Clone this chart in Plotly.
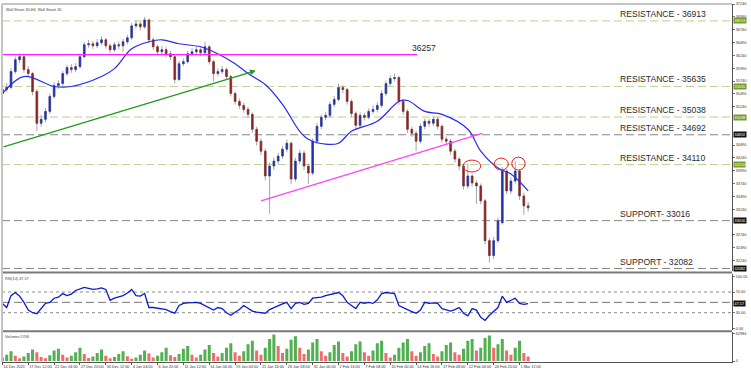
import numpy as np
import plotly.graph_objects as go

# ---------------- data ----------------
opens = [35500,35575,35614,35924,36157,36215,35963,35885,35536,34915,34993,35148,35439,35652,35691,35885,36002,35963,36021,36215,
         36448,36467,36428,36487,36545,36428,36351,36448,36428,36506,36584,36816,36855,36797,36933,36545,36409,36312,36351,36273,
         36215,35769,36079,36118,36273,36312,36351,36293,36409,36118,35885,35924,35963,35827,35497,35342,35264,35187,35090,34799,
         34566,34372,33887,34081,34178,34275,34411,34527,33829,34178,34333,34081,33945,34566,34857,35032,35070,35284,35381,35614,
         35575,35342,35109,34876,35070,35032,35148,35187,35264,35497,35691,35788,35808,35342,35148,34799,34721,34566,34857,34954,
         34915,34993,34857,34605,34566,34372,34217,34081,33693,33887,33751,33693,33402,32626,32335,32626,32975,33984,33596,33790,
         33984,33499,33305]
highs = [35650,35700,35990,36220,36273,36250,36030,35920,35580,35080,35210,35500,35720,35760,35940,36060,36070,36090,36270,36500,
         36540,36520,36560,36610,36580,36470,36500,36510,36560,36640,36870,36920,36900,36991,36960,36590,36450,36420,36400,36330,
         36240,36130,36180,36330,36380,36420,36410,36506,36440,36150,35990,36030,36000,35860,35540,35400,35320,35240,35130,34850,
         34620,34420,34150,34250,34340,34470,34600,34560,34240,34400,34380,34130,34620,34920,35090,35140,35340,35450,35691,35660,
         35610,35380,35150,35130,35120,35210,35260,35330,35560,35750,35850,35885,35840,35390,35190,34850,34770,34910,35010,35000,
         35060,35040,34890,34660,34610,34420,34260,34120,34120,33930,33800,33740,33440,32680,32700,33080,34060,34020,33860,34178,
         34020,33560,33380]
lows = [35470,35520,35580,35880,36090,35900,35820,35460,34760,34850,34940,35100,35400,35590,35650,35840,35900,35910,35980,36180,
        36390,36370,36380,36440,36370,36290,36310,36360,36312,36460,36550,36770,36730,36760,36480,36350,36250,36260,36200,36150,
        35691,35740,36030,36080,36240,36270,36230,36250,36060,35730,35830,35880,35770,35440,35280,35200,35120,35020,34730,34480,
        34290,33800,33150,34000,34120,34220,34360,33730,33780,34120,34000,33733,33900,34520,34800,34980,35020,35230,35340,35500,
        35280,35040,34799,34830,34970,34990,35100,35130,35220,35450,35640,35730,35280,35080,34730,34650,34372,34520,34800,34850,
        34860,34800,34540,34500,34300,34150,34000,33620,33640,33680,33344,33330,32550,32200,32260,32580,32940,33530,33540,33740,
        33420,33130,33190]
closes = [35575,35614,35924,36157,36215,35963,35885,35536,34915,34993,35148,35439,35652,35691,35885,36002,35963,36021,36215,36448,
          36467,36428,36487,36545,36428,36351,36448,36428,36506,36584,36816,36855,36797,36933,36545,36409,36312,36351,36273,36215,
          35769,36079,36118,36273,36312,36351,36293,36409,36118,35885,35924,35963,35827,35497,35342,35264,35187,35090,34799,34566,
          34372,33887,34081,34178,34275,34411,34527,33829,34178,34333,34081,33945,34566,34857,35032,35070,35284,35381,35614,35575,
          35342,35109,34876,35070,35032,35148,35187,35264,35497,35691,35788,35808,35342,35148,34799,34721,34566,34857,34954,34915,
          34993,34857,34605,34566,34372,34217,34081,33693,33887,33751,33693,33402,32626,32335,32626,33014,33984,33596,33790,33984,
          33499,33305,33266]

ma_bars = [0,5,12,16,23,26,30,34,37,41,46,49,54,57,61,65,69,71,75,78,81,87,92,94,98,102,108,111,115,118,122]
ma_values = [35497,35827,35633,35633,35827,35982,36370,36506,36545,36467,36409,36312,36079,35885,35672,35284,34760,34605,
             34508,34527,34760,34954,35342,35361,35148,35090,34799,34372,34042,33926,33596]

rsi_values = [48,40,63,69,62,50,35,30,28,38,48,50,58,60,67,63,66,73,76,79,
              77,75,76,78,75,54,58,60,63,68,75,63,62,67,40,40,39,38,36,32,
              29,44,48,49,50,50,48,44,40,35,40,38,30,25,31,36,44,38,33,31,
              30,29,36,40,44,47,50,38,48,50,46,48,58,59,60,63,65,67,69,63,
              50,44,38,50,48,50,48,55,67,69,68,67,44,40,35,32,29,35,50,48,
              49,48,38,35,33,36,40,29,24,38,35,21,15,25,32,40,62,50,54,58,
              48,46,47.57]

volumes = [8000,14000,22000,12000,6000,10000,18000,26000,20000,9000,6000,13000,24000,28000,14000,8000,12000,20000,30000,16000,
           7000,10000,18000,26000,12000,6000,9000,16000,22000,11000,5000,8000,14000,24000,17000,8000,12000,20000,30000,13000,
           9000,16000,28000,34000,14000,8000,14000,26000,36000,18000,10000,18000,30000,40000,20000,12000,22000,38000,46000,24000,
           14000,30000,50000,60000,34000,18000,28000,48000,56000,30000,16000,26000,42000,50000,22000,12000,20000,36000,44000,18000,
           10000,22000,38000,44000,20000,12000,24000,40000,46000,18000,8000,14000,30000,42000,50000,22000,12000,20000,34000,40000,
           16000,10000,22000,36000,42000,20000,14000,28000,46000,50000,24000,30000,52000,58000,30000,38000,50000,24000,14000,30000,
           46000,18000,10000]

date_labels = ["14 Dec 2021", "17 Dec 12:00", "22 Dec 04:00", "27 Dec 20:00", "30 Dec 12:00", "4 Jan 04:00",
               "6 Jan 20:00", "11 Jan 12:00", "14 Jan 04:00", "19 Jan 00:00", "21 Jan 16:00", "26 Jan 08:00",
               "31 Jan 00:00", "2 Feb 16:00", "7 Feb 08:00", "10 Feb 00:00", "14 Feb 16:00", "17 Feb 08:00",
               "22 Feb 04:00", "24 Feb 20:00", "1 Mar 12:00"]
bars_per_label = 6

price_ticks = [37240, 36990, 36740, 36490, 36240, 35990, 35740, 35490, 35240, 34490, 34240, 33990,
               33740, 33490, 33240, 32740, 32490, 32240]

levels = [36913, 35635, 35038, 34692, 34110, 33016, 32082]
level_texts = ["RESISTANCE - 36913", "RESISTANCE - 35635", "RESISTANCE - 35038", "RESISTANCE - 34692",
               "RESISTANCE - 34110", "SUPPORT- 33016", "SUPPORT - 32082"]
level_is_green = [True, True, True, False, True, False, False]

mag_level = 36257
rsi_last = 47.57
vol_last = 5706
vol_max = 62984

# ---------------- figure ----------------
x = np.arange(len(closes))
o = np.array(opens); h = np.array(highs); l = np.array(lows); c = np.array(closes)

BULL = "#2233a8"
BEAR = "#8b2525"
WICK = "#a6a6a6"
GREEN_LVL = "#b9cf92"
GRAY_LVL = "#858585"
FONT = "Liberation Sans, Arial"
SMALL = dict(family=FONT, size=3.8, color="#333")
TXT = dict(family=FONT, size=8.6, color="#2a2a2a")

fig = go.Figure()

# wicks
fig.add_trace(go.Candlestick(
    x=x, open=o, high=h, low=l, close=c, xaxis="x", yaxis="y",
    increasing=dict(line=dict(color=WICK, width=1), fillcolor=WICK),
    decreasing=dict(line=dict(color=WICK, width=1), fillcolor=WICK),
    whiskerwidth=0, hoverinfo="skip"))
# bodies
fig.add_trace(go.Candlestick(
    x=x, open=o, high=np.maximum(o, c), low=np.minimum(o, c), close=c, xaxis="x", yaxis="y",
    increasing=dict(line=dict(color=BULL, width=0.5), fillcolor=BULL),
    decreasing=dict(line=dict(color=BEAR, width=0.5), fillcolor=BEAR),
    whiskerwidth=0, hoverinfo="skip"))

# moving average
fig.add_trace(go.Scatter(x=ma_bars, y=ma_values, mode="lines", xaxis="x", yaxis="y",
                         line=dict(color="#2a2af0", width=1.2, shape="spline", smoothing=1.0)))

# RSI
fig.add_trace(go.Scatter(x=x, y=rsi_values, mode="lines", xaxis="x2", yaxis="y2",
                         line=dict(color="#0b1bd0", width=1.3)))

# Volumes
vcol = ["#52b052" if i == 0 or volumes[i] >= volumes[i - 1] else "#f06c6c" for i in range(len(volumes))]
fig.add_trace(go.Bar(x=x, y=volumes, xaxis="x3", yaxis="y3", marker=dict(color=vcol, line=dict(width=0)),
                     width=0.7))

xr = [-0.09, 169.3]
tickpos = [bars_per_label * k for k in range(len(date_labels))]

price_dom = [0.2528, 1.0]
rsi_dom = [0.0889, 0.2472]
vol_dom = [0.0, 0.0833]

ax_common = dict(showgrid=False, zeroline=False, range=xr, fixedrange=True)
y_common = dict(showgrid=False, zeroline=False, side="right", showline=True, linecolor="#555", linewidth=1,
                ticks="outside", ticklen=2, tickwidth=0.8, tickcolor="#555", tickfont=SMALL, fixedrange=True)

fig.update_layout(
    width=751, height=372, margin=dict(l=2, r=19, t=2, b=10),
    paper_bgcolor="white", plot_bgcolor="white", showlegend=False, barmode="overlay", boxgap=0.45,
    xaxis=dict(domain=[0, 1], anchor="y", showticklabels=False, rangeslider=dict(visible=False), **ax_common),
    xaxis2=dict(domain=[0, 1], anchor="y2", showticklabels=False, **ax_common),
    xaxis3=dict(domain=[0, 1], anchor="y3", tickvals=tickpos, ticktext=date_labels,
                ticklabelposition="outside right", tickangle=0, tickfont=SMALL, ticks="outside",
                ticklen=2, tickcolor="#555", showline=True, linecolor="#555", linewidth=1, **ax_common),
    yaxis=dict(domain=price_dom, anchor="x", range=[32024, 37243], tickvals=price_ticks,
               ticktext=[str(v) for v in price_ticks], **y_common),
    yaxis2=dict(domain=rsi_dom, anchor="x2", range=[-3.8, 105.8], tickvals=[0, 30, 70, 100],
                ticktext=["0.00", "30.00", "70.00", "100.00"], **y_common),
    yaxis3=dict(domain=vol_dom, anchor="x3", range=[-2249, 65233], tickvals=[0, vol_max],
                ticktext=["0", str(vol_max)], **y_common),
)

shapes = []
annots = []

# horizontal level lines + labels + right boxes
for lv, txt, g in zip(levels, level_texts, level_is_green):
    shapes.append(dict(type="line", xref="paper", yref="y", x0=0, x1=1, y0=lv, y1=lv, layer="below",
                       line=dict(color=GREEN_LVL if g else GRAY_LVL, width=1, dash="8px,4px")))
    annots.append(dict(xref="paper", yref="y", x=0.8435, y=lv, text=txt, showarrow=False,
                       xanchor="left", yanchor="bottom", yshift=0, font=TXT))
    annots.append(dict(xref="paper", yref="y", x=1, y=lv, text=str(lv), showarrow=False, xanchor="left",
                       xshift=1, font=dict(family=FONT, size=3.8, color="white"),
                       bgcolor="#6f9e2f" if g else "#111111", borderpad=0.6))

# magenta horizontal level
shapes.append(dict(type="line", xref="x", yref="y", x0=xr[0], x1=96.2, y0=mag_level, y1=mag_level,
                   line=dict(color="#ff22ff", width=1.3)))
annots.append(dict(xref="x", yref="y", x=94.6, y=mag_level, text=str(mag_level), showarrow=False,
                   xanchor="left", yanchor="bottom", font=TXT))

# magenta trend line
shapes.append(dict(type="line", xref="x", yref="y", x0=60, y0=33401, x1=111.3, y1=34721,
                   line=dict(color="#ff44ff", width=1.3)))

# green trend arrow
annots.append(dict(xref="x", yref="y", axref="x", ayref="y", x=58.8, y=35943, ax=xr[0], ay=34449,
                   text="", showarrow=True, arrowhead=2, arrowsize=0.9, arrowwidth=1.3, arrowcolor="#229922"))

# red ellipses
for (ex0, ex1, ey0, ey1) in [(106.9, 111.0, 33965, 34198), (114.1, 117.4, 34003, 34236), (118.2, 121.3, 34003, 34256)]:
    shapes.append(dict(type="circle", xref="x", yref="y", x0=ex0, x1=ex1, y0=ey0, y1=ey1,
                       line=dict(color="#e02424", width=1)))

# RSI levels
shapes.append(dict(type="line", xref="paper", yref="y2", x0=0, x1=1, y0=70, y1=70, layer="below",
                   line=dict(color="#8a8a8a", width=1, dash="dot")))
shapes.append(dict(type="line", xref="paper", yref="y2", x0=0, x1=1, y0=30, y1=30, layer="below",
                   line=dict(color="#8a8a8a", width=1, dash="dot")))
shapes.append(dict(type="line", xref="paper", yref="y2", x0=0, x1=1, y0=50, y1=50, layer="below",
                   line=dict(color="#777", width=1, dash="8px,4px")))
annots.append(dict(xref="paper", yref="y2", x=1, y=rsi_last, text=f"{rsi_last:.2f}", showarrow=False,
                   xanchor="left", xshift=1, font=dict(family=FONT, size=3.8, color="white"),
                   bgcolor="#111111", borderpad=0.6))

# panel separators and borders
for yp in [0.2500, 0.0861]:
    shapes.append(dict(type="line", xref="paper", yref="paper", x0=0, x1=1.0, y0=yp, y1=yp,
                       line=dict(color="#7a7a7a", width=2)))
shapes.append(dict(type="line", xref="paper", yref="paper", x0=0, x1=1.0, y0=1, y1=1,
                   line=dict(color="#c4c4c4", width=2)))
shapes.append(dict(type="line", xref="paper", yref="paper", x0=0, x1=0, y0=0, y1=1,
                   line=dict(color="#c4c4c4", width=2)))

# panel titles
annots.append(dict(xref="paper", yref="paper", x=0.003, y=0.994, text="Wall Street 30,H4  Wall Street 30",
                   showarrow=False, xanchor="left", yanchor="top", font=dict(family=FONT, size=3.8, color="#444")))
annots.append(dict(xref="paper", yref="paper", x=0.002, y=rsi_dom[1] - 0.004, text=f"RSI(14) {rsi_last:.2f}",
                   showarrow=False, xanchor="left", yanchor="top", font=dict(family=FONT, size=3.8, color="#444")))
annots.append(dict(xref="paper", yref="paper", x=0.002, y=vol_dom[1] - 0.002, text=f"Volumes {vol_last}",
                   showarrow=False, xanchor="left", yanchor="top", font=dict(family=FONT, size=3.8, color="#444")))

fig.update_layout(shapes=shapes, annotations=annots)
fig.write_html("out.html", config={"displayModeBar": False, "staticPlot": True},
               post_script="document.body.style.margin='0';document.body.style.overflow='hidden';")
